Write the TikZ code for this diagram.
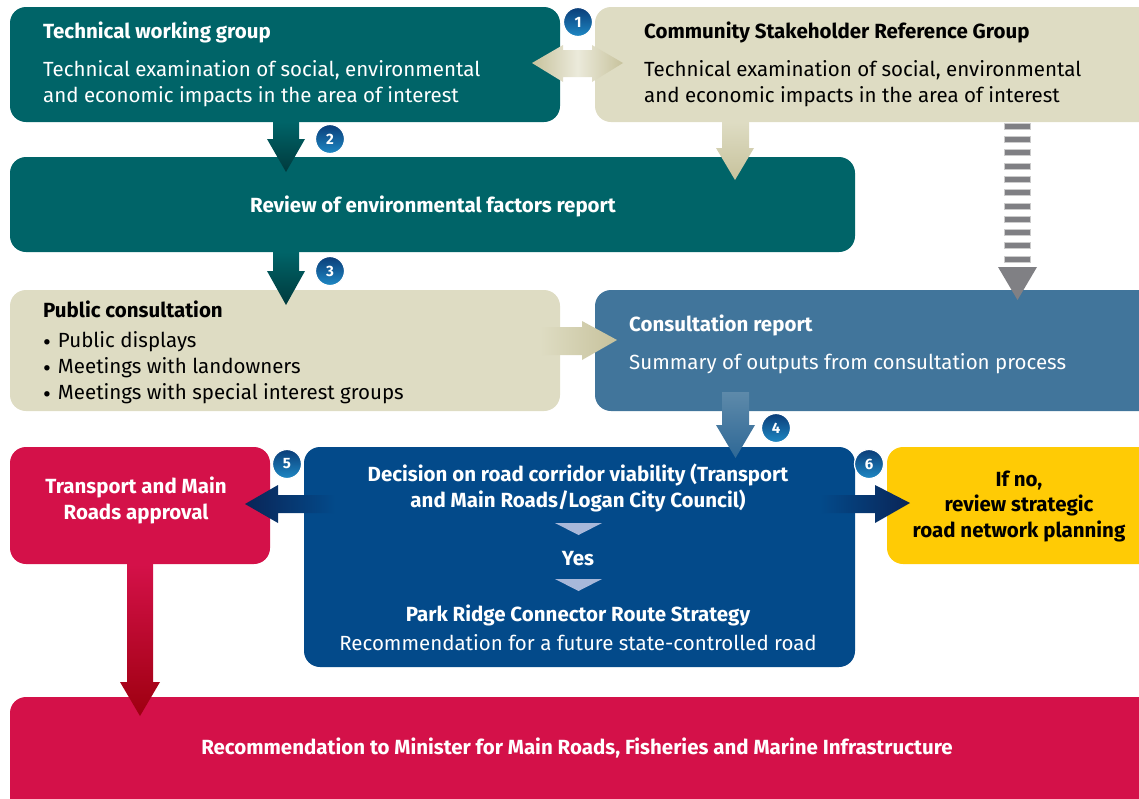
\documentclass[tikz,border=0pt]{standalone}
\usepackage{fontspec}
\setmainfont{Fira Sans}
\definecolor{teal}{HTML}{006468}
\definecolor{tealdark}{HTML}{003A3D}
\definecolor{beige}{HTML}{DEDCC3}
\definecolor{beigedark}{HTML}{C7C29C}
\definecolor{cblue}{HTML}{41759B}
\definecolor{crim}{HTML}{D41149}
\definecolor{crimdark}{HTML}{9E0010}
\definecolor{dblue}{HTML}{034A8A}
\definecolor{navy}{HTML}{0A2557}
\definecolor{yel}{HTML}{FFCB05}
\definecolor{dgray}{HTML}{808084}
\definecolor{chev}{HTML}{A8B8DA}
\definecolor{numtop}{HTML}{0B3D78}
\definecolor{numbot}{HTML}{1E88C4}
\newcommand{\bul}{{\fontsize{24}{24}\selectfont\raisebox{-3pt}{\textbullet}}\hspace{7pt}}
\tikzset{
  box/.style={rounded corners=16pt, inner sep=0pt},
  txt/.style={inner sep=0pt, font=\fontsize{20.5}{24}\selectfont},
  ttl/.style={inner sep=0pt, font=\fontsize{20.5}{24}\selectfont\bfseries},
  num/.style={circle, minimum size=29pt, inner sep=0pt, draw=white, line width=1.2pt,
    top color=numtop, bottom color=numbot, text=white, font=\fontsize{15}{15}\selectfont\bfseries}
}
\begin{document}
\begin{tikzpicture}[x=1pt,y=-1pt]
\useasboundingbox (0,0) rectangle (1139,798);
\clip (0,0) rectangle (1139,798);
% boxes
\node[box, fill=teal, minimum width=550pt, minimum height=115pt] (twg) at (285,64.5) {};
\node[box, fill=beige, minimum width=570pt, minimum height=115pt] (csrg) at (880,64.5) {};
\node[box, fill=teal, minimum width=845pt, minimum height=95pt] (ref) at (432.5,204.5) {};
\node[box, fill=beige, minimum width=550pt, minimum height=121pt] (pc) at (285,350.5) {};
\node[box, fill=cblue, minimum width=570pt, minimum height=121pt] (cr) at (880,350.5) {};
\node[box, fill=crim, minimum width=260pt, minimum height=117pt] (tmr) at (140,505.5) {};
\node[box, fill=dblue, minimum width=551pt, minimum height=220pt] (dec) at (579.5,557) {};
\node[box, fill=yel, minimum width=280pt, minimum height=117pt] (ifno) at (1027,505.5) {};
\node[box, fill=crim, minimum width=1160pt, minimum height=130pt] (rec) at (590,762) {};
% arrows
\shade[left color=beigedark, right color=beigedark, middle color=beige!60!white]
  (532,63) -- (563,45) -- (563,50) -- (592,50) -- (592,45) -- (623,63) -- (592,82) -- (592,77) -- (563,77) -- (563,82) -- cycle;
\shade[top color=teal, bottom color=tealdark]
  (273,122) -- (299,122) -- (299,139) -- (305,139) -- (286,172) -- (267,139) -- (273,139) -- cycle;
\shade[top color=beige, bottom color=beigedark]
  (722,122) -- (749,122) -- (749,148) -- (754,148) -- (735,180) -- (716,148) -- (722,148) -- cycle;
\foreach \i in {0,...,10} {
  \fill[dgray, draw=gray!40, line width=0.6pt] (1004,{123+\i*13.3}) rectangle (1030,{129+\i*13.3});
}
\fill[dgray] (998,267) -- (1037,267) -- (1017.5,300) -- cycle;
\shade[top color=teal, bottom color=tealdark]
  (273,252) -- (299,252) -- (299,271) -- (305,271) -- (286,305) -- (267,271) -- (273,271) -- cycle;
\shade[left color=beige, right color=beigedark]
  (540,327) -- (582,327) -- (582,321) -- (617,340) -- (582,360) -- (582,355) -- (540,355) -- cycle;
\shade[top color=cblue!85!white, bottom color=cblue!70!dblue]
  (722,392) -- (749,392) -- (749,425) -- (755,425) -- (735.5,458) -- (716,425) -- (722,425) -- cycle;
\shade[left color=navy, right color=dblue]
  (245,504) -- (278,485) -- (278,495) -- (335,495) -- (335,513) -- (278,513) -- (278,523) -- cycle;
\shade[left color=dblue, right color=navy]
  (820,495) -- (875,495) -- (875,485) -- (910,503) -- (875,523) -- (875,513) -- (820,513) -- cycle;
\shade[top color=crim, bottom color=crimdark]
  (127,564) -- (153,564) -- (153,682) -- (160,682) -- (140,716) -- (120,682) -- (127,682) -- cycle;
\fill[chev] (555,523) -- (602,523) -- (578.5,535) -- cycle;
\fill[chev] (555,579) -- (602,579) -- (578.5,591) -- cycle;
% numbers
\node[num] (n1) at (578,22) {1};
\node[num] (n2) at (330,139) {2};
\node[num] (n3) at (330,271) {3};
\node[num] (n4) at (776,428) {4};
\node[num] (n5) at (287,464) {5};
\node[num] (n6) at (869,464) {6};
% texts
\node[ttl, text=white, anchor=base west] (t1) at (43,38) {Technical working group};
\node[txt, text=white, anchor=base west] (t1a) at (43,76) {Technical examination of social, environmental};
\node[txt, text=white, anchor=base west] (t1b) at (43,102) {and economic impacts in the area of interest};
\node[ttl, text=black, anchor=base west] (t2) at (644,38) {Community Stakeholder Reference Group};
\node[txt, text=black, anchor=base west] (t2a) at (644,76) {Technical examination of social, environmental};
\node[txt, text=black, anchor=base west] (t2b) at (644,102) {and economic impacts in the area of interest};
\node[ttl, text=white, anchor=base] (t3) at (433,212) {Review of environmental factors report};
\node[ttl, text=black, anchor=base west] (t4) at (43,317) {Public consultation};
\node[txt, text=black, anchor=base west] (t4a) at (43,347) {\bul Public displays};
\node[txt, text=black, anchor=base west] (t4b) at (43,373) {\bul Meetings with landowners};
\node[txt, text=black, anchor=base west] (t4c) at (43,399) {\bul Meetings with special interest groups};
\node[ttl, text=white, anchor=base west] (t5) at (629,331) {Consultation report};
\node[txt, text=white, anchor=base west] (t5a) at (629,369) {Summary of outputs from consultation process};
\node[ttl, text=white, anchor=base] (t6) at (136,493) {Transport and Main};
\node[ttl, text=white, anchor=base] (t6b) at (136,519) {Roads approval};
\node[ttl, text=white, anchor=base] (t7) at (578,481) {Decision on road corridor viability (Transport};
\node[ttl, text=white, anchor=base] (t7b) at (578,507) {and Main Roads/Logan City Council)};
\node[ttl, text=white, anchor=base] (t7c) at (578,565) {Yes};
\node[ttl, text=white, anchor=base] (t7d) at (578,621) {Park Ridge Connector Route Strategy};
\node[txt, text=white, anchor=base] (t7e) at (578,650) {Recommendation for a future state-controlled road};
\node[ttl, text=black, anchor=base] (t8) at (1019,486) {If no,};
\node[ttl, text=black, anchor=base] (t8b) at (1019,511) {review strategic};
\node[ttl, text=black, anchor=base] (t8c) at (1019,537) {road network planning};
\node[ttl, text=white, anchor=base] (t9) at (577,754) {Recommendation to Minister for Main Roads, Fisheries and Marine Infrastructure};
\end{tikzpicture}
\end{document}
